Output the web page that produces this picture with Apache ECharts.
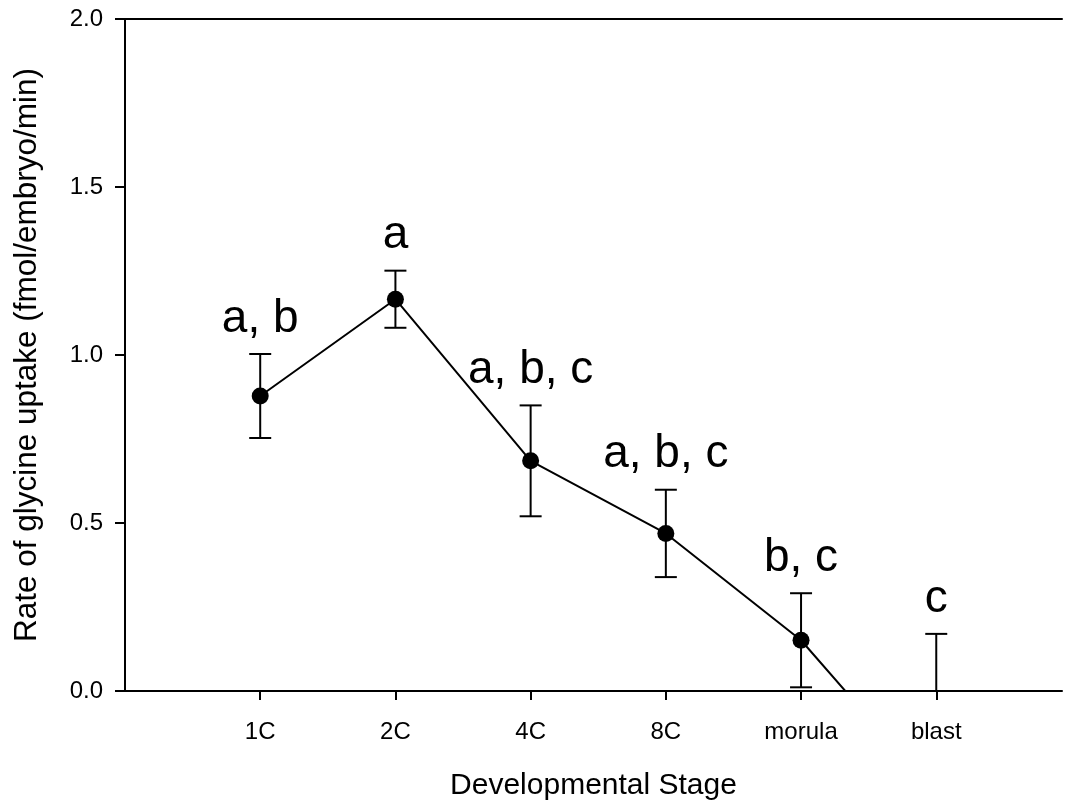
<!DOCTYPE html>
<html><head><meta charset="utf-8">
<script src="https://cdn.jsdelivr.net/npm/echarts@6/dist/echarts.min.js"></script>
<style>html,body{margin:0;padding:0;background:#fff}#c{width:1067px;height:806px}</style>
</head><body><div id="c"></div>
<script>
const stages = ['1C', '2C', '4C', '8C', 'morula', 'blast'];
const means = [0.878, 1.166, 0.685, 0.469, 0.151, -0.31];
const errs = [0.125, 0.085, 0.165, 0.13, 0.14, 0.48];
const letters = ['a, b', 'a', 'a, b, c', 'a, b, c', 'b, c', 'c'];
const yTicks = [0, 0.5, 1.0, 1.5, 2.0];

const xPos = stages.map((s, i) => i + 1);
const FONT = '"Liberation Sans", Arial, Helvetica, sans-serif';
const chart = echarts.init(document.getElementById('c'), null, {renderer: 'canvas'});

const option = {
  animation: false,
  backgroundColor: '#fff',
  grid: {left: 125, right: 5, top: 19, bottom: 113, containLabel: false},
  xAxis: [{
    type: 'value', min: 0, max: 6.93, position: 'bottom',
    name: 'Developmental Stage', nameLocation: 'middle', nameGap: 80,
    nameTextStyle: {fontFamily: FONT, fontSize: 30, color: '#000'},
    axisLine: {show: true, onZero: false, lineStyle: {color: '#000', width: 2}},
    axisTick: {show: true, customValues: xPos, length: 9, inside: false, lineStyle: {color: '#000', width: 2}},
    axisLabel: {customValues: xPos, formatter: v => stages[Math.round(v) - 1] || '', margin: 29,
      fontFamily: FONT, fontSize: 24, color: '#000'},
    splitLine: {show: false}
  }, {
    type: 'value', min: 0, max: 6.93, position: 'top',
    axisLine: {show: true, onZero: false, lineStyle: {color: '#000', width: 2}},
    axisTick: {show: false}, axisLabel: {show: false}, splitLine: {show: false}
  }],
  yAxis: {
    type: 'value', min: yTicks[0], max: yTicks[yTicks.length - 1], interval: 0.5,
    name: 'Rate of glycine uptake (fmol/embryo/min)', nameLocation: 'middle', nameGap: 82,
    nameTextStyle: {fontFamily: FONT, fontSize: 31.5, color: '#000'},
    axisLine: {show: true, onZero: false, lineStyle: {color: '#000', width: 2}},
    axisTick: {show: true, length: 10, inside: false, lineStyle: {color: '#000', width: 2}},
    axisLabel: {formatter: v => v.toFixed(1), margin: 22, fontFamily: FONT, fontSize: 24, color: '#000'},
    splitLine: {show: false}
  },
  series: [{
    type: 'custom',
    xAxisIndex: 0, yAxisIndex: 0,
    z: 2,
    data: stages.map((s, i) => [i + 1, means[i], errs[i], i]),
    renderItem: (params, api) => {
      const x = api.value(0), m = api.value(1), e = api.value(2), i = api.value(3);
      const cs = params.coordSys;
      const yTop = cs.y, yBot = cs.y + cs.height;
      const top = api.coord([x, m + e]);
      const bot = api.coord([x, m - e]);
      const hw = 11;
      const st = {stroke: '#000', lineWidth: 2};
      const y1 = Math.max(top[1], yTop), y2 = Math.min(bot[1], yBot);
      const children = [];
      if (y2 > y1) children.push({type: 'line', shape: {x1: top[0], y1: y1, x2: top[0], y2: y2}, style: st});
      if (top[1] >= yTop && top[1] <= yBot)
        children.push({type: 'line', shape: {x1: top[0] - hw, y1: top[1], x2: top[0] + hw, y2: top[1]}, style: st});
      if (bot[1] >= yTop && bot[1] <= yBot)
        children.push({type: 'line', shape: {x1: bot[0] - hw, y1: bot[1], x2: bot[0] + hw, y2: bot[1]}, style: st});
      children.push({
        type: 'text',
        style: {text: letters[i], x: top[0], y: top[1] - 12, align: 'center', verticalAlign: 'bottom',
          textAlign: 'center', textVerticalAlign: 'bottom',
          fontFamily: FONT, fontSize: 46, fill: '#000'}
      });
      return {type: 'group', children: children};
    }
  }, {
    type: 'line',
    xAxisIndex: 0, yAxisIndex: 0,
    z: 3,
    clip: true,
    data: stages.map((s, i) => [i + 1, means[i]]),
    symbol: 'circle', symbolSize: 17,
    itemStyle: {color: '#000'},
    lineStyle: {color: '#000', width: 2}
  }]
};
chart.setOption(option);
</script>
</body></html>
